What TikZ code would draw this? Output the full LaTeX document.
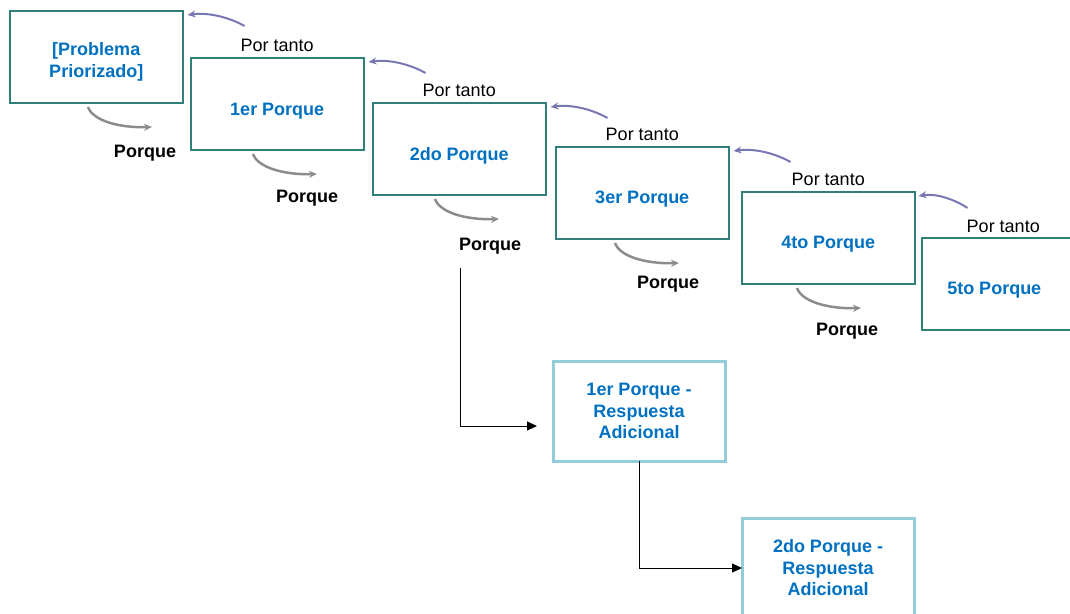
\documentclass[tikz,border=0pt]{standalone}
\usepackage{fontspec}
\setmainfont{Liberation Sans}
\usetikzlibrary{calc,arrows.meta}

\definecolor{boxteal}{RGB}{46,128,120}
\definecolor{lightaqua}{RGB}{146,205,216}
\definecolor{qblue}{RGB}{0,112,192}
\definecolor{arrowgray}{RGB}{140,140,140}
\definecolor{thuspurple}{RGB}{122,120,180}

\tikzset{
  boxtext/.style={text=qblue, font=\bfseries\fontsize{18}{21.5}\selectfont, align=center},
  whybox/.style={draw=boxteal, line width=2pt, minimum width=172.5pt, minimum height=92pt,
                 inner sep=0pt, outer sep=0pt, anchor=north west},
  extrabox/.style={draw=lightaqua, line width=3pt, minimum width=172pt, minimum height=100pt,
                   inner sep=0pt, outer sep=0pt, anchor=north west, boxtext},
  porque/.style={font=\bfseries\fontsize{18}{21.5}\selectfont},
  portanto/.style={font=\fontsize{18}{21.5}\selectfont, anchor=base},
  whyarrow/.style={draw=arrowgray, line width=2.5pt, -{Stealth[length=8pt,width=7pt]}},
  thusarrow/.style={draw=thuspurple, line width=2pt, -{Stealth[length=8pt,width=7pt]}},
  elbow/.style={draw=black, line width=1pt, -{Triangle[length=10pt,width=9pt]}}
}

\begin{document}
\begin{tikzpicture}[x=1pt,y=-1pt]
\useasboundingbox (0,0) rectangle (1070,613);
\clip (0,0) rectangle (1070,613);

% chain of "why" boxes
\node[whybox, label={[boxtext,yshift=-5pt]center:{[Problema\\Priorizado]}}] (b0) at (10,11) {};
\node[whybox, label={[boxtext,yshift=-7pt]center:{1er Porque}}] (b1) at (191,58) {};
\node[whybox, label={[boxtext,yshift=-7pt]center:{2do Porque}}] (b2) at (373,103) {};
\node[whybox, label={[boxtext,yshift=-6pt]center:{3er Porque}}] (b3) at (556,147) {};
\node[whybox, label={[boxtext,yshift=-6pt]center:{4to Porque}}] (b4) at (742,192) {};
\node[whybox, label={[boxtext,yshift=-6pt,xshift=-14pt]center:{5to Porque}}] (b5) at (922,238) {};

% additional answers
\node[extrabox] (b6) at (553,361) {1er Porque -\\Respuesta\\Adicional};
\node[extrabox] (b7) at (742,518) {2do Porque -\\Respuesta\\Adicional};

% "Porque" arrows below each box
\foreach \i/\dx/\lx/\ly in {0/78/57/46, 1/62/54/44, 2/62/55/47, 3/59/53/41, 4/55/50/43}{
  \coordinate (s\i) at ($(b\i.south west)+(\dx,4)$);
  \coordinate (e\i) at ($(s\i)+(64,20)$);
  \draw[whyarrow] (s\i) .. controls +(5,14) and +(-32,1) .. (e\i);
  \node[porque] at ($(s\i)+(\lx,\ly)$) {Porque};
}

% "Por tanto" arrows back to the previous box
\foreach \i/\j in {0/1,1/2,2/3,3/4}{
  \coordinate (t\i) at ($(b\i.north east)+(5,4)$);
  \coordinate (u\i) at ($(t\i)+(57,11)$);
  \draw[thusarrow] (u\i) .. controls +(-14,-8) and +(22,-3) .. (t\i);
  \node[portanto] at ($(b\j.north)+(0,-7)$) {Por tanto};
}
\coordinate (t4) at ($(b4.north east)+(4,4)$);
\coordinate (u4) at ($(t4)+(49,12)$);
\draw[thusarrow] (u4) .. controls +(-12,-8) and +(18,-3) .. (t4);
\node[portanto] at ($(b5.north)+(-5,-6)$) {Por tanto};

% links to the additional answers
\coordinate (d2) at ($(b2.south)+(1,73)$);
\coordinate (g6) at ($(b6.west)+(-16,15)$);
\draw[elbow] (d2) |- (g6);
\draw[elbow] (b6.south) |- (b7.west);
\end{tikzpicture}
\end{document}
